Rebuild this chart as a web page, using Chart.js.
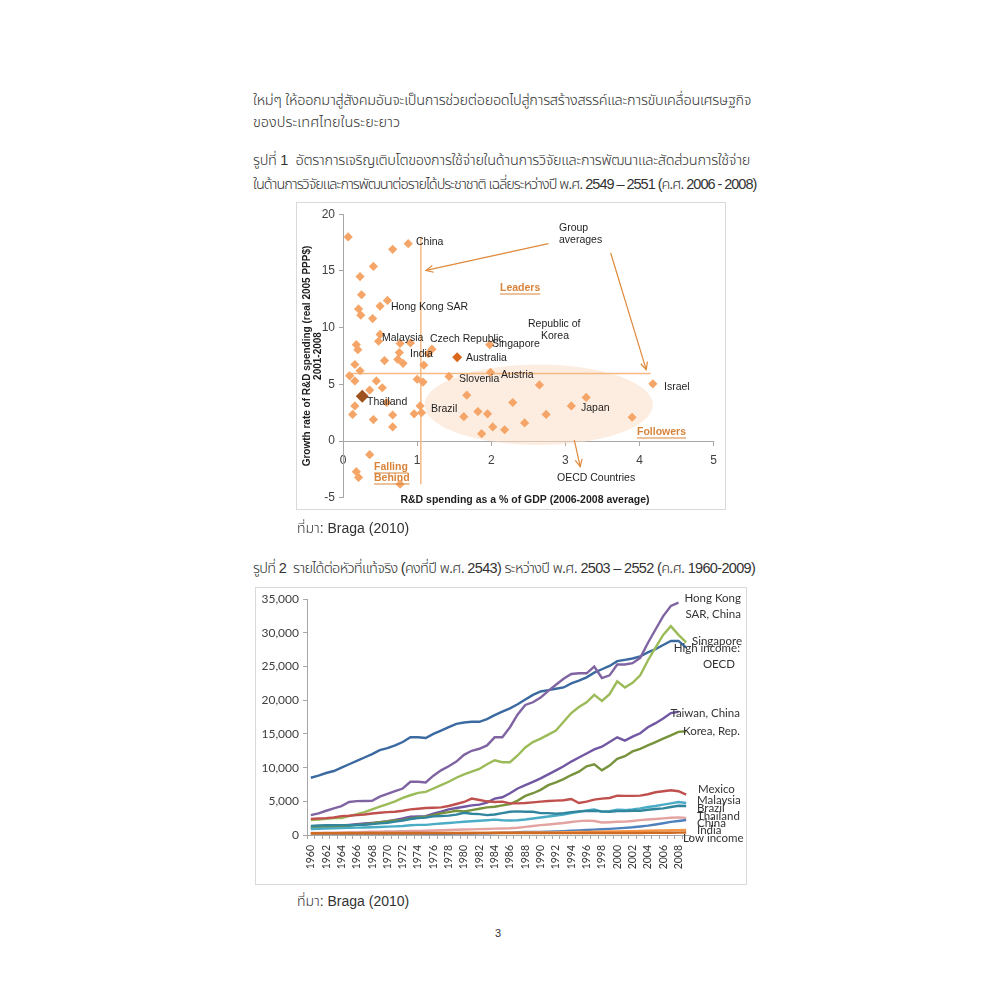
<!DOCTYPE html>
<html>
<head>
<meta charset="utf-8">
<script src="https://cdn.jsdelivr.net/npm/chart.js@4.4.0/dist/chart.umd.min.js"></script>
<style>
html, body { margin: 0; padding: 0; background: #fff; }
body { width: 1000px; height: 1000px; position: relative; overflow: hidden;
       font-family: "Liberation Sans", "Noto Sans Thai", "Garuda", "Loma", sans-serif; color: #333; }
.t { position: absolute; white-space: nowrap; font-size: 14.5px; line-height: 20px; font-weight: 300; }
.src { font-size: 14px; }
.box { position: absolute; outline: 1px solid #d9d9d9; }
</style>
</head>
<body>

<div class="t" style="left:253px;top:90px" data-w="493">ใหม่ๆ ให้ออกมาสู่สังคมอันจะเป็นการช่วยต่อยอดไปสู่การสร้างสรรค์และการขับเคลื่อนเศรษฐกิจ</div>
<div class="t" style="left:253px;top:112px">ของประเทศไทยในระยะยาว</div>

<div class="t" style="left:253px;top:150px" data-w="492">รูปที่ 1&nbsp;&nbsp;อัตราการเจริญเติบโตของการใช้จ่ายในด้านการวิจัยและการพัฒนาและสัดส่วนการใช้จ่าย</div>
<div class="t" style="left:253px;top:174px" data-w="492">ในด้านการวิจัยและการพัฒนาต่อรายได้ประชาชาติ เฉลี่ยระหว่างปี พ.ศ. 2549 – 2551 (ค.ศ. 2006 - 2008)</div>

<div class="box" style="left:297px;top:203px;width:428px;height:306px"><canvas id="rd"></canvas></div>

<div class="t src" style="left:297px;top:518px">ที่มา: Braga (2010)</div>

<div class="t" style="left:253px;top:558px" data-w="492">รูปที่ 2&nbsp;&nbsp;รายได้ต่อหัวที่แท้จริง (คงที่ปี พ.ศ. 2543) ระหว่างปี พ.ศ. 2503 – 2552 (ค.ศ. 1960-2009)</div>

<div class="box" style="left:256px;top:588px;width:490px;height:296px"><canvas id="gdp"></canvas></div>

<div class="t src" style="left:297px;top:891px">ที่มา: Braga (2010)</div>
<div class="t src" style="left:495px;top:923px;font-size:11px">3</div>

<script>
// ---------- figure 1 : R&D spending vs growth ----------
const rdShare = [0.07, 0.88, 0.67, 0.41, 0.23, 0.25, 0.60, 0.50, 0.21, 0.24, 0.40, 0.50, 0.48, 0.18, 0.20,
  0.77, 0.91, 1.20, 0.76, 1.15, 1.98, 0.56, 0.74, 0.81, 1.09, 0.16, 0.23, 0.09, 0.16, 0.45, 0.53, 0.36,
  1.00, 1.08, 1.43, 1.99, 0.16, 0.13, 0.41, 0.67, 0.67, 0.59, 1.04, 1.06, 0.96, 1.67, 1.63, 1.82, 1.95,
  1.87, 2.02, 2.18, 0.36, 0.18, 0.21, 0.77, 2.65, 2.29, 3.28, 3.08, 2.74, 2.45, 3.90, 4.18];
const rdGrowth = [18.0, 17.4, 16.9, 15.4, 14.5, 12.9, 12.4, 11.9, 11.65, 11.1, 10.8, 9.4, 8.8, 8.5, 8.05,
  8.6, 8.65, 8.1, 7.8, 7.7, 8.5, 7.1, 7.2, 6.85, 6.7, 6.75, 6.2, 5.75, 5.3, 5.3, 4.7, 4.5,
  5.45, 5.2, 5.7, 6.05, 3.1, 2.35, 1.9, 2.3, 1.25, 3.4, 3.1, 2.5, 2.4, 4.05, 2.15, 2.6, 2.4,
  0.65, 1.25, 1.0, -1.2, -2.7, -3.2, -3.8, 4.95, 3.4, 3.85, 3.1, 2.35, 1.6, 2.1, 5.05];
const thailandPt = [0.26, 3.95];
const australiaPt = [1.54, 7.4];
const groupAvg = { share: 1.05, growth: 5.95 };

const rdXTicks = [0, 1, 2, 3, 4, 5];
const rdYTicks = [-5, 0, 5, 10, 15, 20];

// annotation texts (page coordinates)
const rdNotes = [
  ['China', 416, 242], ['Hong Kong SAR', 391, 307], ['Malaysia', 382, 338], ['Czech Republic', 430, 339],
  ['India', 410, 354], ['Australia', 466, 358], ['Singapore', 492, 344], ['Republic of', 528, 324],
  ['Korea', 541, 336], ['Slovenia', 459, 379], ['Austria', 501, 375], ['Thailand', 367, 402],
  ['Brazil', 431, 409], ['Japan', 581, 408], ['Israel', 664, 387], ['Group', 559, 228],
  ['averages', 559, 240], ['OECD Countries', 557, 478]
];
const rdGroups = [['Leaders', 500, 288], ['Followers', 637, 432], ['Falling', 374, 467], ['Behind', 374, 478]];

const RD_LEFT = 297, RD_TOP = 203;

function arrowTo(ctx, x1, y1, x2, y2) {
  ctx.beginPath(); ctx.moveTo(x1, y1); ctx.lineTo(x2, y2); ctx.stroke();
  const a = Math.atan2(y2 - y1, x2 - x1), L = 8;
  ctx.beginPath();
  ctx.moveTo(x2 - L * Math.cos(a - 0.45), y2 - L * Math.sin(a - 0.45));
  ctx.lineTo(x2, y2);
  ctx.lineTo(x2 - L * Math.cos(a + 0.45), y2 - L * Math.sin(a + 0.45));
  ctx.stroke();
}

const rdBackdrop = {
  id: 'rdBackdrop',
  beforeDatasetsDraw(chart) {
    const { ctx, scales: { x, y } } = chart;
    ctx.save();
    // OECD ellipse
    const cx = x.getPixelForValue(2.64), cy = y.getPixelForValue(3.2);
    const rx = x.getPixelForValue(4.18) - cx, ry = y.getPixelForValue(-0.35) - cy;
    ctx.fillStyle = 'rgba(251, 222, 200, 0.55)';
    ctx.beginPath(); ctx.ellipse(cx, cy, rx, ry, 0, 0, Math.PI * 2); ctx.fill();
    // group average lines
    ctx.strokeStyle = '#f6b982'; ctx.lineWidth = 1.5;
    ctx.beginPath();
    ctx.moveTo(x.getPixelForValue(groupAvg.share), y.getPixelForValue(18));
    ctx.lineTo(x.getPixelForValue(groupAvg.share), y.getPixelForValue(-3.8));
    ctx.moveTo(x.getPixelForValue(0.05), y.getPixelForValue(groupAvg.growth));
    ctx.lineTo(x.getPixelForValue(4.15), y.getPixelForValue(groupAvg.growth));
    ctx.stroke();
    ctx.restore();
  },
  afterDatasetsDraw(chart) {
    const { ctx, scales: { x, y } } = chart;
    ctx.save();
    ctx.strokeStyle = '#e08a3c'; ctx.lineWidth = 1.2;
    arrowTo(ctx, x.getPixelForValue(2.77), y.getPixelForValue(17.4), x.getPixelForValue(1.12), y.getPixelForValue(15.05));
    arrowTo(ctx, x.getPixelForValue(3.61), y.getPixelForValue(16.6), x.getPixelForValue(4.09), y.getPixelForValue(6.3));
    arrowTo(ctx, x.getPixelForValue(3.12), y.getPixelForValue(0.1), x.getPixelForValue(3.2), y.getPixelForValue(-2.25));
    ctx.font = '10.5px "Liberation Sans", Arial, sans-serif';
    ctx.fillStyle = '#1e1e1e'; ctx.textBaseline = 'middle'; ctx.textAlign = 'left';
    rdNotes.forEach(([t, px, py]) => ctx.fillText(t, px - RD_LEFT, py - RD_TOP));
    ctx.font = 'bold 10.5px "Liberation Sans", Arial, sans-serif';
    ctx.fillStyle = '#d9843a'; ctx.strokeStyle = '#d9843a'; ctx.lineWidth = 1;
    rdGroups.forEach(([t, px, py]) => {
      const w = ctx.measureText(t).width, lx = px - RD_LEFT, ly = py - RD_TOP;
      ctx.fillText(t, lx, ly);
      ctx.beginPath(); ctx.moveTo(lx, ly + 6); ctx.lineTo(lx + w, ly + 6); ctx.stroke();
    });
    // x axis title
    ctx.font = 'bold 10.5px "Liberation Sans", Arial, sans-serif';
    ctx.fillStyle = '#1e1e1e'; ctx.textAlign = 'center';
    ctx.fillText('R&D spending as a % of GDP (2006-2008 average)', 525 - RD_LEFT, 500 - RD_TOP);
    ctx.restore();
  }
};

const diamond = (xs, ys) => xs.map((v, i) => ({ x: v, y: ys[i] }));

new Chart(document.getElementById('rd'), {
  type: 'scatter',
  data: {
    datasets: [
      { data: [{ x: thailandPt[0], y: thailandPt[1] }], pointStyle: 'rectRot', pointRadius: 6.5,
        backgroundColor: '#a0521e', borderWidth: 0 },
      { data: [{ x: australiaPt[0], y: australiaPt[1] }], pointStyle: 'rectRot', pointRadius: 5,
        backgroundColor: '#d9671c', borderWidth: 0 },
      { data: diamond(rdShare, rdGrowth), pointStyle: 'rectRot', pointRadius: 4.6,
        backgroundColor: '#f4a567', borderWidth: 0 }
    ]
  },
  options: {
    responsive: true, maintainAspectRatio: false, animation: false,
    layout: { padding: { top: 10, right: 10, bottom: 7, left: 4 } },
    plugins: { legend: { display: false }, tooltip: { enabled: false } },
    scales: {
      x: {
        type: 'linear', min: 0, max: 5, position: { y: 0 },
        afterBuildTicks: s => { s.ticks = rdXTicks.map(v => ({ value: v })); },
        grid: { drawOnChartArea: false, tickLength: 4, color: '#a6a6a6' },
        border: { color: '#a6a6a6' },
        ticks: { color: '#404040', font: { family: '"Liberation Sans", Arial', size: 12 }, padding: 8 }
      },
      y: {
        min: -5, max: 20,
        afterBuildTicks: s => { s.ticks = rdYTicks.map(v => ({ value: v })); },
        afterFit: s => { s.width = 42; },
        grid: { drawOnChartArea: false, tickLength: 4, color: '#a6a6a6' },
        border: { color: '#a6a6a6' },
        ticks: { color: '#404040', font: { family: '"Liberation Sans", Arial', size: 12 }, padding: 4 },
        title: { display: true, text: ['Growth rate of R&D spending (real 2005 PPP$)', '2001-2008'],
          color: '#1e1e1e', font: { family: '"Liberation Sans", Arial', size: 10, weight: 'bold', lineHeight: 1.15 },
          padding: { top: 0, bottom: 0 } }
      }
    }
  },
  plugins: [rdBackdrop]
});

// ---------- figure 2 : real GDP per capita ----------
const years = [];
for (let yr = 1960; yr <= 2009; yr++) years.push(String(yr));

const highIncomeOECD = [8500, 8800, 9200, 9500, 10000, 10500, 11000, 11500, 12000, 12600,
  12900, 13300, 13800, 14500, 14500, 14400, 15000, 15500, 16000, 16500,
  16700, 16800, 16800, 17200, 17800, 18300, 18800, 19400, 20100, 20800,
  21300, 21500, 21700, 21900, 22500, 22900, 23400, 24100, 24600, 25100,
  25800, 26000, 26200, 26500, 27100, 27600, 28200, 28800, 28800, 27800];
const hongKong = [2950, 3200, 3600, 3950, 4300, 4900, 5030, 5050, 5080, 5700,
  6100, 6500, 6900, 7900, 7900, 7800, 8800, 9600, 10200, 10900,
  11900, 12500, 12800, 13300, 14500, 14500, 16000, 17900, 19300, 19700,
  20400, 21400, 22300, 23200, 23900, 24000, 24000, 25000, 23300, 23700,
  25300, 25300, 25500, 26300, 28500, 30500, 32500, 34000, 34500, null];
const singapore = [2200, 2300, 2400, 2500, 2500, 2800, 3100, 3400, 3800, 4200,
  4600, 5000, 5500, 5900, 6250, 6400, 6900, 7400, 7900, 8500,
  9000, 9400, 9800, 10500, 11100, 10800, 10800, 11800, 13000, 13800,
  14300, 14900, 15500, 16800, 18100, 19000, 19700, 20800, 19900, 20900,
  22800, 21900, 22600, 23700, 25900, 27800, 29700, 31000, 29700, 28600];
const taiwan = [1100, 1150, 1200, 1300, 1400, 1500, 1600, 1700, 1800, 1900,
  2050, 2250, 2450, 2700, 2750, 2800, 3150, 3450, 3800, 4000,
  4200, 4400, 4500, 4800, 5400, 5600, 6200, 6900, 7400, 7900,
  8400, 9000, 9600, 10200, 10900, 11500, 12100, 12700, 13100, 13800,
  14500, 14000, 14600, 15100, 16000, 16600, 17300, 18100, 18300, null];
const korea = [1100, 1150, 1150, 1250, 1300, 1350, 1500, 1550, 1700, 1900,
  2000, 2150, 2200, 2450, 2600, 2700, 2950, 3200, 3400, 3600,
  3500, 3700, 3900, 4100, 4200, 4400, 4600, 5100, 5800, 6200,
  6700, 7400, 7800, 8300, 8900, 9400, 10200, 10500, 9600, 10300,
  11300, 11700, 12400, 12800, 13300, 13800, 14300, 14800, 15300, 15400];
const mexico = [2400, 2450, 2500, 2600, 2800, 2850, 2950, 3050, 3200, 3300,
  3400, 3450, 3600, 3800, 3900, 4000, 4050, 4100, 4300, 4600,
  4900, 5400, 5200, 5000, 4900, 4950, 4700, 4700, 4750, 4850,
  4950, 5050, 5100, 5150, 5350, 4750, 4950, 5250, 5400, 5500,
  5850, 5800, 5800, 5850, 6050, 6350, 6500, 6650, 6500, 6000];
const malaysia = [900, 930, 960, 990, 1020, 1060, 1090, 1110, 1150, 1190,
  1240, 1280, 1340, 1440, 1510, 1500, 1620, 1700, 1790, 1880,
  1970, 2050, 2120, 2190, 2280, 2200, 2150, 2200, 2300, 2450,
  2600, 2750, 2900, 3050, 3250, 3450, 3650, 3800, 3450, 3550,
  3750, 3700, 3800, 3950, 4150, 4300, 4500, 4700, 4900, 4750];
const brazil = [1350, 1420, 1460, 1450, 1460, 1450, 1500, 1520, 1620, 1720,
  1820, 1980, 2140, 2380, 2520, 2580, 2770, 2820, 2880, 3030,
  3300, 3150, 3100, 2950, 3050, 3250, 3450, 3500, 3450, 3450,
  3250, 3250, 3150, 3250, 3400, 3500, 3550, 3600, 3500, 3450,
  3550, 3550, 3600, 3600, 3750, 3850, 3950, 4150, 4350, 4300];
const thailand = [300, 310, 330, 350, 370, 390, 430, 450, 480, 500,
  530, 540, 560, 600, 610, 630, 670, 710, 760, 780,
  810, 840, 870, 900, 940, 960, 1000, 1080, 1200, 1330,
  1460, 1560, 1670, 1790, 1920, 2060, 2140, 2080, 1850, 1900,
  1960, 1980, 2080, 2200, 2300, 2380, 2470, 2560, 2620, 2540];
const china = [110, 80, 80, 90, 100, 110, 120, 110, 110, 120,
  140, 140, 150, 150, 160, 170, 160, 170, 190, 200,
  210, 220, 240, 260, 300, 330, 360, 400, 440, 450,
  460, 500, 540, 580, 620, 680, 740, 800, 850, 910,
  985, 1060, 1150, 1270, 1400, 1560, 1740, 1940, 2070, 2220];
const india = [230, 235, 235, 240, 250, 240, 240, 250, 255, 260,
  270, 265, 260, 265, 265, 280, 280, 295, 300, 285,
  295, 305, 310, 320, 325, 335, 340, 345, 370, 385,
  390, 385, 395, 410, 425, 445, 470, 485, 500, 525,
  540, 550, 570, 600, 630, 660, 680, 700, 720, 740];
const lowIncome = [270, 275, 280, 280, 285, 290, 285, 290, 295, 300,
  305, 305, 300, 300, 305, 305, 300, 300, 305, 305,
  300, 300, 300, 300, 295, 300, 300, 300, 300, 295,
  295, 290, 285, 280, 280, 285, 290, 295, 290, 290,
  290, 295, 300, 305, 315, 325, 335, 345, 355, 360];

const gdpTicks = [0, 5000, 10000, 15000, 20000, 25000, 30000, 35000];

const gdpSeries = [
  ['Low income', lowIncome, '#cf6a22'],
  ['India', india, '#f79646'],
  ['China', china, '#4f81bd'],
  ['Thailand', thailand, '#e3a3a1'],
  ['Brazil', brazil, '#31859c'],
  ['Malaysia', malaysia, '#4bacc6'],
  ['Mexico', mexico, '#c0504d'],
  ['Korea, Rep.', korea, '#77933c'],
  ['Taiwan, China', taiwan, '#7257a3'],
  ['Singapore', singapore, '#9bbb59'],
  ['Hong Kong SAR, China', hongKong, '#8064a2'],
  ['High income: OECD', highIncomeOECD, '#3b6aa0']
];

// end labels: text, page x, page y, alignment
const GDP_LEFT = 256, GDP_TOP = 588;
const gdpNotes = [
  ['Hong Kong', 741, 598, 'right'], ['SAR, China', 741, 614, 'right'], ['Singapore', 742, 641, 'right'],
  ['High income:', 740, 648, 'right'], ['OECD', 735, 664, 'right'], ['Taiwan, China', 740, 713, 'right'],
  ['Korea, Rep.', 740, 731, 'right'], ['Mexico', 698, 789, 'left'], ['Malaysia', 697, 800, 'left'],
  ['Brazil', 697, 808, 'left'], ['Thailand', 697, 816, 'left'], ['China', 697, 823, 'left'],
  ['India', 697, 830, 'left'], ['Low income', 683, 838, 'left']
];

const gdpLabels = {
  id: 'gdpLabels',
  afterDatasetsDraw(chart) {
    const ctx = chart.ctx;
    ctx.save();
    ctx.font = '11.5px Lato, "Open Sans", sans-serif';
    ctx.fillStyle = '#333'; ctx.textBaseline = 'middle';
    gdpNotes.forEach(([t, px, py, al]) => { ctx.textAlign = al; ctx.fillText(t, px - GDP_LEFT, py - GDP_TOP); });
    ctx.restore();
  }
};

new Chart(document.getElementById('gdp'), {
  type: 'line',
  data: {
    labels: years,
    datasets: gdpSeries.map(([name, vals, col]) => ({
      label: name, data: vals, borderColor: col, backgroundColor: col,
      borderWidth: 2.4, pointRadius: 0, tension: 0, spanGaps: false
    }))
  },
  options: {
    responsive: true, maintainAspectRatio: false, animation: false,
    layout: { padding: { top: 10, right: 56, bottom: 0, left: 0 } },
    plugins: { legend: { display: false }, tooltip: { enabled: false } },
    scales: {
      x: {
        offset: true,
        afterFit: s => { s.height = 49; },
        grid: { drawOnChartArea: false, tickLength: 4, color: '#a6a6a6', offset: true },
        border: { color: '#a6a6a6' },
        ticks: { autoSkip: false, maxRotation: 90, minRotation: 90, color: '#333', padding: 6,
          font: { family: 'Lato, "Open Sans", sans-serif', size: 10.5 },
          callback: (v, i) => (i % 2 === 0 ? years[i] : '') }
      },
      y: {
        min: 0, max: 35000,
        afterBuildTicks: s => { s.ticks = gdpTicks.map(v => ({ value: v })); },
        afterFit: s => { s.width = 51; },
        grid: { drawOnChartArea: false, tickLength: 4, color: '#a6a6a6' },
        border: { color: '#a6a6a6' },
        ticks: { color: '#404040', padding: 4, font: { family: 'Lato, "Open Sans", sans-serif', size: 12 },
          callback: v => v.toLocaleString('en-US') }
      }
    }
  },
  plugins: [gdpLabels]
});

// stretch the Thai text lines to the widths of the printed page
document.querySelectorAll('.t[data-w]').forEach(el => {
  const target = +el.dataset.w, w = el.getBoundingClientRect().width;
  const n = el.textContent.length;
  el.style.letterSpacing = ((target - w) / n).toFixed(3) + 'px';
});
</script>
</body>
</html>
